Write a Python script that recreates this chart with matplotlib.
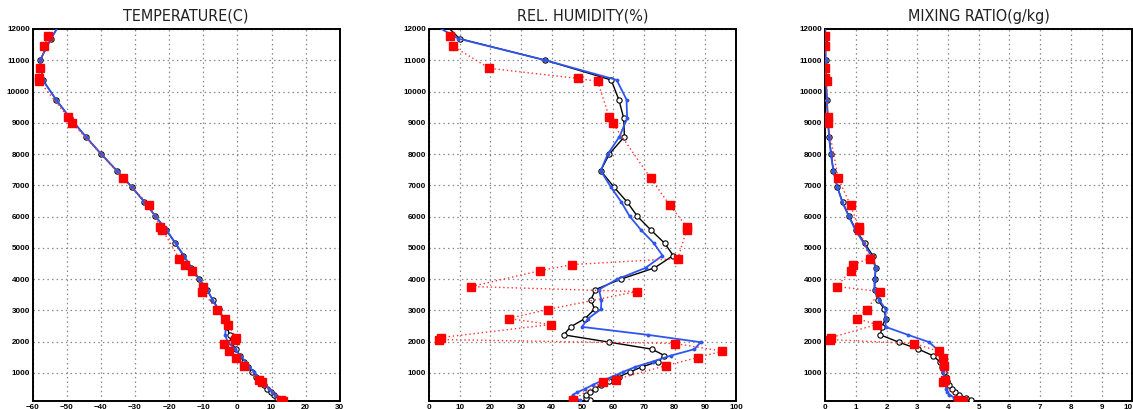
import matplotlib
matplotlib.use("Agg")
import matplotlib.pyplot as plt

## Data

# model levels (m), bottom to top, shared by the black and blue runs
levels = [136, 211, 296, 381, 488, 616, 733, 872, 1032, 1192, 1362, 1554, 1757,
          1981, 2215, 2471, 2738, 3036, 3335, 3666, 3996, 4358, 4753, 5147,
          5563, 6011, 6464, 6944, 7467, 8000, 8555, 9140, 9740, 10370, 11000,
          11690, 12200]

# observation heights (m), red squares
obs_height = [105, 147, 712, 786, 1234, 1490, 1693, 1938, 2066, 2130, 2546,
              2738, 3026, 3601, 3761, 4273, 4465, 4657, 5584, 5670, 6360, 7221,
              8981, 9173, 10325, 10421, 10741, 11445, 11776]

# temperature (C)
temp_black = [12.2, 11.5, 10.6, 9.8, 8.8, 7.7, 6.7, 5.6, 4.4, 3.2, 2.0, 0.7, -0.5,
              -1.8, -2.3, -3.0, -4.0, -5.5, -7.2, -9.0, -11.2, -13.5, -15.8, -18.2,
              -20.8, -24.0, -27.2, -30.9, -35.3, -39.9, -44.4, -48.9, -53.1, -57.0,
              -57.8, -54.6, -51.8]
temp_blue = [12.6, 11.9, 11.0, 10.2, 9.2, 8.1, 7.1, 6.0, 4.8, 3.5, 2.3, 0.9, -0.6,
             -2.8, -3.6, -3.3, -4.1, -5.6, -7.3, -8.8, -11.1, -13.4, -15.7, -18.1,
             -20.7, -24.0, -27.2, -30.9, -35.3, -39.9, -44.4, -48.9, -53.1, -57.0,
             -57.8, -54.6, -51.8]
temp_obs = [13.4, 12.7, 7.3, 6.3, 2.0, -0.3, -2.4, -3.8, -0.7, -0.4, -2.8,
            -3.6, -5.9, -10.3, -10.0, -13.2, -15.2, -17.0, -22.0, -22.6, -25.8, -33.4,
            -48.3, -49.5, -58.0, -58.2, -57.7, -56.5, -55.6]

# relative humidity (%)
rh_black = [52.5, 51.0, 51.0, 52.3, 54.0, 56.1, 58.5, 61.7, 65.5, 69.3, 74.6, 76.6, 72.6,
            58.7, 43.9, 46.1, 50.8, 53.9, 52.7, 54.2, 62.4, 73.4, 79.5, 76.7,
            72.3, 67.8, 64.5, 60.2, 55.9, 58.7, 63.6, 63.4, 61.8, 59.3, 37.9,
            10.0, 4.7]
rh_blue = [49.0, 46.6, 46.8, 48.3, 50.8, 53.3, 56.0, 59.5, 63.2, 67.2, 72.8, 78.8, 86.4,
           88.4, 71.3, 49.8, 51.8, 56.0, 56.1, 55.3, 61.3, 70.5, 76.0, 73.2,
           69.1, 65.3, 62.6, 59.2, 55.9, 58.2, 62.0, 64.5, 64.3, 61.1, 37.9,
           9.6, 0.5]
rh_obs = [46.8, 47.0, 56.5, 60.8, 77.1, 87.5, 95.5, 80.2, 3.2, 4.0, 39.6,
          25.9, 38.6, 67.6, 13.8, 36.3, 46.7, 81.0, 83.9, 83.9, 78.4, 72.2,
          59.8, 58.7, 54.9, 48.4, 19.7, 7.9, 7.0]

# mixing ratio (g/kg)
mr_black = [4.75, 4.58, 4.37, 4.22, 4.12, 4.04, 3.97, 3.92, 3.87, 3.82, 3.73, 3.50, 3.04,
            2.40, 1.80, 1.85, 1.97, 1.93, 1.72, 1.61, 1.63, 1.65, 1.55, 1.29,
            1.01, 0.78, 0.57, 0.40, 0.27, 0.20, 0.13, 0.09, 0.06, 0.03, 0.015,
            0.01, 0.005]
mr_blue = [4.45, 4.20, 4.05, 3.98, 3.95, 3.93, 3.90, 3.87, 3.85, 3.83, 3.79, 3.73, 3.64,
           3.39, 2.70, 1.97, 1.97, 1.97, 1.76, 1.60, 1.61, 1.65, 1.50, 1.26,
           0.99, 0.77, 0.56, 0.40, 0.27, 0.19, 0.13, 0.09, 0.06, 0.03, 0.02,
           0.01, 0.005]
mr_obs = [4.48, 4.33, 3.84, 3.91, 3.86, 3.84, 3.70, 2.89, 0.15, 0.20, 1.68,
          1.03, 1.35, 1.80, 0.38, 0.83, 0.92, 1.45, 1.12, 1.09, 0.83, 0.43,
          0.09, 0.09, 0.05, 0.01, 0.01, 0.01, 0.01]

titles = ["TEMPERATURE(C)", "REL. HUMIDITY(%)", "MIXING RATIO(g/kg)"]
xranges = [(-60, 30, 10), (0, 100, 10), (0, 10, 1)]
y_ticks = list(range(1000, 12001, 1000))

## Figure

fig = plt.figure(figsize=(11.33, 4.09), dpi=100)
lefts = [0.0287, 0.3786, 0.7282]
blue = "#2f55f0"

panels = [(temp_black, temp_blue, temp_obs),
          (rh_black, rh_blue, rh_obs),
          (mr_black, mr_blue, mr_obs)]

for i, (black_vals, blue_vals, obs_vals) in enumerate(panels):
    ax = fig.add_axes([lefts[i], 0.0196, 0.2712, 0.9095])
    xmin, xmax, xstep = xranges[i]

    # observations: red dotted with squares
    ax.plot(obs_vals, obs_height, color="#ff3030", linestyle=(0, (1, 2)),
            linewidth=1.0, zorder=5)
    ax.plot(obs_vals, obs_height, color="red", linestyle="none", marker="s",
            markersize=5.5, zorder=6)
    # model runs
    ax.plot(black_vals, levels, color="black", linewidth=1.0, marker="o",
            markersize=3.8, markerfacecolor="white", markeredgewidth=0.8,
            zorder=3)
    ax.plot(blue_vals, levels, color=blue, linewidth=1.3, marker="o",
            markersize=2.8, markeredgewidth=0, zorder=4)

    ax.set_xlim(xmin, xmax)
    ax.set_ylim(100, 12000)
    ax.set_xticks(list(range(xmin, xmax + 1, xstep)))
    ax.set_yticks(y_ticks)
    ax.grid(True, color="#888888", linestyle=(0, (1.2, 2.5)), linewidth=0.9)
    ax.tick_params(length=0, pad=2, labelsize=5.8)
    for lab in ax.get_xticklabels() + ax.get_yticklabels():
        lab.set_fontweight("bold")
        lab.set_family("Liberation Sans")
    for sp in ax.spines.values():
        sp.set_linewidth(1.4)
    ax.set_title(titles[i], fontsize=11.5, pad=6, family="DejaVu Sans",
                 fontstretch="condensed", fontweight="light", color="#222222")

# last tick label of the right panel sits on the figure edge
fig.axes[-1].get_xticklabels()[-1].set_horizontalalignment("right")

fig.savefig("out.png", dpi=100)
